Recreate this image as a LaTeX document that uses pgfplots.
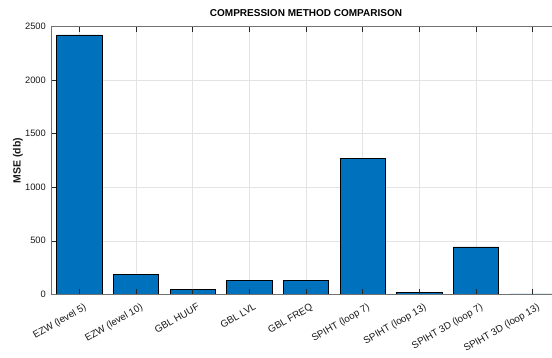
\documentclass[border=0pt]{standalone}
\usepackage{pgfplots}
\pgfplotsset{compat=1.18}
\usepackage{fontspec}
\setmainfont{Liberation Sans}

\definecolor{barblue}{HTML}{0072BD}
\definecolor{axgray}{HTML}{262626}
\definecolor{gridgray}{HTML}{E3E3E3}

\pgfplotsset{
  mseframe/.style={
    width=510pt, height=267.6pt, scale only axis,
    xmin=0.5, xmax=9.5, ymin=0, ymax=2500,
    xtick={1,...,9}, ytick={0,500,...,2500},
    axis line style={draw=axgray!65, line width=0.7pt},
  }
}

\begin{document}
\begin{tikzpicture}
\clip (-51pt,-63.7pt) rectangle (501pt,294.3pt);
% bars, grid, labels
\begin{axis}[mseframe,
  ybar, bar width=0.8,
  grid=major, major grid style={gridgray, line width=0.5pt},
  major tick length=0pt,
  xticklabels={EZW (level 5), EZW (level 10), GBL HUUF, GBL LVL, GBL FREQ, SPIHT (loop 7), SPIHT (loop 13), SPIHT 3D (loop 7), SPIHT 3D (loop 13)},
  xticklabel style={font=\fontsize{9.8}{11}\selectfont, text=black!90, inner sep=0pt,
    xshift=4pt, yshift=-8.5pt, rotate=30, anchor=north east},
  yticklabel style={font=\fontsize{9.3}{11}\selectfont, text=black!90, inner sep=0pt, xshift=-5pt},
  /pgf/number format/assume math mode=true,
  /pgf/number format/1000 sep={},
  title={COMPRESSION METHOD COMPARISON},
  title style={font=\bfseries\fontsize{10}{12}\selectfont, text=black, at={(0.5,1)}, anchor=south, inner sep=0pt, yshift=4pt},
  ylabel={MSE (db)},
  ylabel style={font=\bfseries\fontsize{10.5}{12}\selectfont, text=black!90, at={([xshift=-33pt]axis description cs:0,0.5)}, anchor=center},
]
\addplot[fill=barblue, draw=black, line width=0.5pt] coordinates {
  (1,2423) (2,187) (3,47) (4,130) (5,130) (6,1267) (7,19) (8,444) (9,3)
};
\end{axis}
% frame and ticks drawn over the bars
\begin{axis}[mseframe,
  xticklabels={}, yticklabels={},
  tick align=inside, major tick length=5pt,
  tick style={axgray, line width=0.5pt},
]
\end{axis}
\end{tikzpicture}
\end{document}
